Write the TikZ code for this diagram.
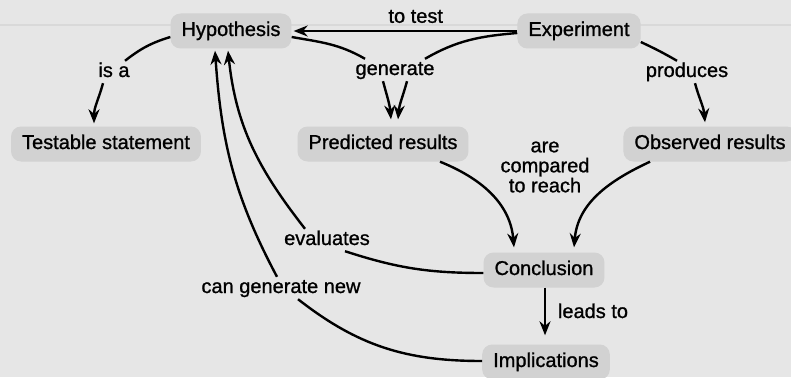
\documentclass[tikz,border=0pt]{standalone}
\usepackage{fontspec}
\setmainfont{Liberation Sans}[FakeBold=1]
\usetikzlibrary{arrows.meta}
\definecolor{bgc}{HTML}{E6E6E6}
\definecolor{boxc}{HTML}{D2D2D2}
\tikzset{
  concept/.style={fill=boxc, rounded corners=10pt, minimum height=35pt, inner xsep=11pt, inner ysep=0pt,
    font=\fontsize{20}{22}\selectfont, text height=14pt, text depth=4pt},
  lbl/.style={inner sep=2pt, font=\fontsize{20}{20}\selectfont, text height=14pt, text depth=4pt},
  ln/.style={line width=2.4pt, black},
  arr/.style={ln, -{Stealth[length=14pt,width=11pt]}},
}
\begin{document}
\begin{tikzpicture}[x=1pt,y=1pt]
\fill[bgc] (0,0) rectangle (791,-377);
\useasboundingbox (0,0) rectangle (791,-377);
\draw[black!15, line width=1.2pt] (0,-25) -- (791,-25);
% concepts
\node[concept] (hyp) at (231,-31) {Hypothesis};
\node[concept] (exp) at (579,-31) {Experiment};
\node[concept] (test) at (106,-144) {Testable statement};
\node[concept] (pred) at (383,-144) {Predicted results};
\node[concept] (obs) at (710,-144) {Observed results};
\node[concept] (conc) at (544,-270) {Conclusion};
\node[concept] (impl) at (546,-362) {Implications};
% linking phrases
\node[lbl] (isa) at (114,-72) {is a};
\node[lbl] (gen) at (395,-70) {generate};
\node[lbl] (prod) at (687,-72) {produces};
\node[lbl, align=center, font=\fontsize{20}{20}\selectfont, text height=, text depth=] (cmp) at (545,-167) {are\\compared\\to reach};
\node[lbl] (eval) at (327,-240) {evaluates};
\node[lbl] (cgn) at (281,-288) {can generate new};
\node[lbl] (leads) at (593,-313) {leads to};
% connectors
\draw[arr, shorten >=2pt] (exp) -- node[lbl, above=1pt, pos=0.45] (totest) {to test} (hyp);
\draw[ln] ([yshift=-6pt]hyp.west) to[out=197,in=38] ([xshift=11pt]isa.north);
\draw[arr] ([xshift=-11pt]isa.south) to[out=-105,in=90] ([xshift=-12pt,yshift=3pt]test.north);
\draw[ln] ([yshift=-6pt]hyp.east) to[out=-10,in=150] ([xshift=-30pt]gen.north);
\draw[ln] ([yshift=-2pt]exp.west) to[out=185,in=30] ([xshift=30pt]gen.north);
\draw[arr] ([xshift=-12pt]gen.south) to[out=-75,in=95] ([xshift=8pt,yshift=7pt]pred.north);
\draw[arr] ([xshift=12pt]gen.south) to[out=-105,in=85] ([xshift=15pt,yshift=7pt]pred.north);
\draw[ln] ([yshift=-11pt]exp.east) to[out=-25,in=150] ([xshift=-10pt]prod.north);
\draw[arr] ([xshift=8pt]prod.south) to[out=-75,in=95] ([xshift=-5pt,yshift=4pt]obs.north);
\draw[arr] ([xshift=57pt]pred.south) to[out=-22,in=95] ([xshift=-30pt,yshift=5pt]conc.north);
\draw[arr] ([xshift=-60pt]obs.south) to[out=205,in=85] ([xshift=30pt,yshift=5pt]conc.north);
\draw[arr] ([xshift=1pt]conc.south) -- ([xshift=-1pt,yshift=9pt]impl.north);
\draw[ln] ([yshift=-3pt]conc.west) to[out=180,in=-18] ([xshift=18pt]eval.south);
\draw[arr] ([xshift=-22pt]eval.north) to[out=128,in=-84] ([xshift=-3pt,yshift=-2pt]hyp.south);
\draw[ln] ([yshift=1pt]impl.west) to[out=180,in=-38] ([xshift=17pt]cgn.south);
\draw[arr] ([xshift=-4pt]cgn.north) to[out=118,in=-86] ([xshift=-16pt,yshift=-2pt]hyp.south);
\end{tikzpicture}
\end{document}
